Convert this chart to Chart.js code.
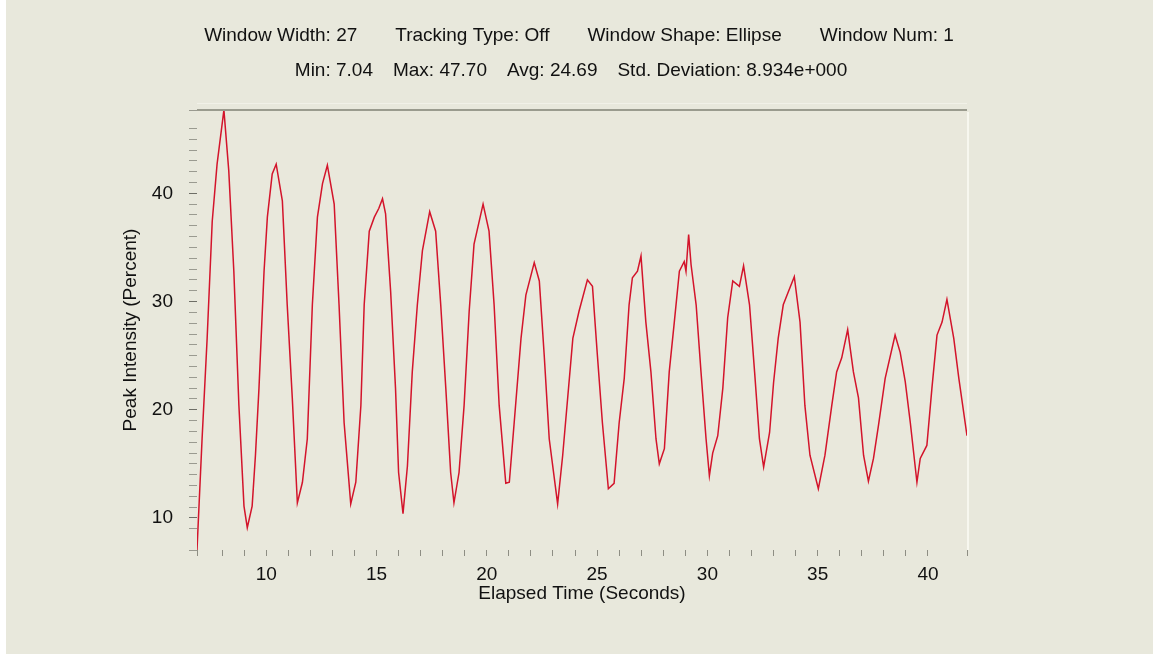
<!DOCTYPE html>
<html>
<head>
<meta charset="utf-8">
<script src="https://cdn.jsdelivr.net/npm/chart.js@4/dist/chart.umd.min.js"></script>
<style>
  html, body { margin: 0; padding: 0; background: #e8e8dc; }
  #wrap { position: relative; width: 1153px; height: 654px; }
</style>
</head>
<body>
<div id="wrap"><canvas id="chart" width="1153" height="654"></canvas></div>
<script>
// header text above the plot, one list per line
var headerLine1 = ['Window Width: 27', 'Tracking Type: Off', 'Window Shape: Ellipse', 'Window Num: 1'];
var headerLine2 = ['Min: 7.04', 'Max: 47.70', 'Avg: 24.69', 'Std. Deviation: 8.934e+000'];

// elapsed time (s) at each visible corner of the trace
var times = [
    6.86, 7.09, 7.32, 7.55, 7.77, 8.08, 8.30, 8.53, 8.76, 8.99, 9.14, 9.36, 9.51,
    9.67, 9.90, 10.05, 10.27, 10.45, 10.73, 10.95, 11.18, 11.41, 11.64, 11.86,
    12.09, 12.32, 12.55, 12.77, 13.08, 13.30, 13.53, 13.83, 14.06, 14.29, 14.44,
    14.67, 14.90, 15.10, 15.27, 15.41, 15.64, 15.86, 16.00, 16.20, 16.40, 16.62,
    16.85, 17.08, 17.41, 17.68, 17.91, 18.14, 18.36, 18.51, 18.74, 18.97, 19.20,
    19.42, 19.83, 20.10, 20.33, 20.56, 20.86, 21.02, 21.24, 21.55, 21.77, 22.15,
    22.38, 22.60, 22.83, 23.21, 23.44, 23.90, 24.18, 24.56, 24.79, 25.01, 25.24,
    25.51, 25.77, 26.00, 26.23, 26.45, 26.60, 26.83, 26.99, 27.21, 27.44, 27.67,
    27.82, 28.05, 28.27, 28.50, 28.73, 28.95, 29.03, 29.15, 29.26, 29.49, 29.71,
    29.94, 30.09, 30.24, 30.47, 30.70, 30.92, 31.15, 31.45, 31.64, 31.91, 32.14,
    32.36, 32.55, 32.82, 33.00, 33.21, 33.44, 33.67, 33.94, 34.20, 34.42, 34.65,
    35.03, 35.33, 35.64, 35.86, 36.09, 36.36, 36.62, 36.85, 37.08, 37.30, 37.53,
    37.76, 38.06, 38.51, 38.74, 38.97, 39.20, 39.50, 39.65, 39.95, 40.18, 40.41,
    40.64, 40.86, 41.17, 41.40, 41.77
];

// peak intensity (%) at those times
var intensity = [
    7.04, 17.3, 26.6, 37.4, 42.7, 47.70, 42.1, 32.8, 20.4, 11.1, 9.1, 11.1, 15.8,
    22.0, 32.8, 37.8, 41.8, 42.7, 39.3, 29.7, 21.1, 11.4, 13.3, 17.3,
    29.7, 37.8, 40.9, 42.6, 39.0, 29.7, 18.8, 11.3, 13.3, 20.4, 29.7,
    36.5, 37.8, 38.6, 39.5, 38.1, 30.9, 22.0, 14.2, 10.4, 14.8, 23.5,
    29.7, 34.7, 38.3, 36.5, 29.7, 22.0, 14.2, 11.4, 14.2, 20.4, 29.1,
    35.3, 39.0, 36.5, 29.7, 20.4, 13.2, 13.3, 18.8, 26.6, 30.6, 33.6,
    31.9, 25.1, 17.3, 11.3, 15.8, 26.6, 29.1, 32.0, 31.4, 25.1, 18.8,
    12.7, 13.2, 18.8, 22.9, 29.7, 32.2, 32.8, 34.2, 28.1, 23.5, 17.3,
    15.0, 16.4, 23.5, 28.1, 32.8, 33.7, 32.8, 36.2, 33.4, 29.7, 23.5,
    17.3, 13.9, 16.0, 17.6, 22.0, 28.5, 31.9, 31.4, 33.3, 29.7, 23.5,
    17.3, 14.7, 17.9, 22.5, 26.6, 29.7, 30.9, 32.3, 28.1, 20.4, 15.8,
    12.7, 15.8, 20.4, 23.5, 24.8, 27.4, 23.5, 21.1, 15.8, 13.4, 15.5,
    18.6, 22.9, 26.9, 25.3, 22.6, 18.8, 13.3, 15.5, 16.7, 22.0, 26.9,
    28.1, 30.2, 26.6, 22.9, 17.6
];

var xLabelTicks = [10, 15, 20, 25, 30, 35, 40];
var yLabelTicks = [10, 20, 30, 40];

var points = times.map(function (t, i) {
    return { x: t, y: intensity[i] };
});

var textFont = '"Liberation Sans", Arial, sans-serif';

// lay a row of text segments out with a fixed gap, centred on cx
function drawRow(ctx, parts, cx, y, gap) {
    var widths = parts.map(function (p) { return ctx.measureText(p).width; }),
        total = widths.reduce(function (a, b) { return a + b; }, 0) + gap * (parts.length - 1),
        x = cx - total / 2;

    parts.forEach(function (p, i) {
        ctx.fillText(p, x, y);
        x += widths[i] + gap;
    });
}

// page background, white left strip, plot frame and the two header lines
var framePlugin = {
    id: 'frame',
    beforeDraw: function (chart) {
        var ctx = chart.ctx, a = chart.chartArea;
        ctx.save();
        ctx.fillStyle = '#e8e8dc';
        ctx.fillRect(0, 0, chart.width, chart.height);
        ctx.fillStyle = '#ffffff';
        ctx.fillRect(0, 0, 6, chart.height);
        ctx.fillStyle = '#e9e8dc';
        ctx.fillRect(a.left, a.top, a.right - a.left, a.bottom - a.top);
        ctx.restore();
    },
    afterDatasetsDraw: function (chart) {
        var ctx = chart.ctx, a = chart.chartArea;
        ctx.save();
        ctx.strokeStyle = '#f1f1e8';
        ctx.lineWidth = 1;
        ctx.beginPath();
        ctx.moveTo(a.left, a.top - 6.5);
        ctx.lineTo(a.right, a.top - 6.5);
        ctx.stroke();
        ctx.strokeStyle = '#9a9b8e';
        ctx.lineWidth = 2;
        ctx.beginPath();
        ctx.moveTo(a.left, a.top);
        ctx.lineTo(a.right, a.top);
        ctx.stroke();
        ctx.strokeStyle = '#f7f7ef';
        ctx.lineWidth = 2;
        ctx.beginPath();
        ctx.moveTo(a.right + 1, a.top + 2);
        ctx.lineTo(a.right + 1, a.bottom);
        ctx.stroke();

        ctx.fillStyle = '#111111';
        ctx.font = '19px ' + textFont;
        ctx.textBaseline = 'middle';
        ctx.textAlign = 'left';
        drawRow(ctx, headerLine1, 579, 36, 38);
        drawRow(ctx, headerLine2, 571, 71, 20);
        ctx.restore();
    }
};

new Chart(document.getElementById('chart').getContext('2d'), {
    type: 'line',
    data: {
        datasets: [{
            data: points,
            borderColor: '#d3142b',
            borderWidth: 1.5,
            pointRadius: 0,
            tension: 0,
            fill: false
        }]
    },
    options: {
        responsive: false,
        animation: false,
        layout: { padding: { top: 110, right: 186, bottom: 51, left: 0 } },
        plugins: {
            legend: { display: false },
            tooltip: { enabled: false },
            title: { display: false }
        },
        scales: {
            x: {
                type: 'linear',
                min: 6.86,
                max: 41.77,
                afterFit: function (scale) { scale.height = 53; },
                grid: { drawOnChartArea: false, tickLength: 6, tickColor: '#8e8e84', tickWidth: 1 },
                border: { display: false },
                ticks: {
                    stepSize: 1,
                    autoSkip: false,
                    maxRotation: 0,
                    padding: 7,
                    color: '#111111',
                    font: { family: textFont, size: 19 },
                    callback: function (v) {
                        return xLabelTicks.indexOf(v) >= 0 ? String(v) : '';
                    }
                },
                title: {
                    display: true,
                    text: 'Elapsed Time (Seconds)',
                    color: '#111111',
                    font: { family: textFont, size: 19, lineHeight: 1 },
                    padding: { top: 0, bottom: 0 }
                }
            },
            y: {
                min: 7.04,
                max: 47.70,
                afterFit: function (scale) { scale.width = 197; },
                grid: {
                    drawOnChartArea: false,
                    tickLength: 8,
                    tickWidth: 1,
                    tickColor: function (c) {
                        return yLabelTicks.indexOf(c.tick.value) >= 0 ? '#6e6e66' : '#9a9a90';
                    }
                },
                border: { display: false },
                ticks: {
                    stepSize: 1,
                    autoSkip: false,
                    padding: 16,
                    color: '#111111',
                    font: { family: textFont, size: 19 },
                    callback: function (v) {
                        return yLabelTicks.indexOf(v) >= 0 ? String(v) : '';
                    }
                },
                title: {
                    display: true,
                    text: 'Peak Intensity (Percent)',
                    color: '#111111',
                    font: { family: textFont, size: 19, lineHeight: 1 },
                    padding: { top: 121, bottom: 0 }
                }
            }
        }
    },
    plugins: [framePlugin]
});
</script>
</body>
</html>
